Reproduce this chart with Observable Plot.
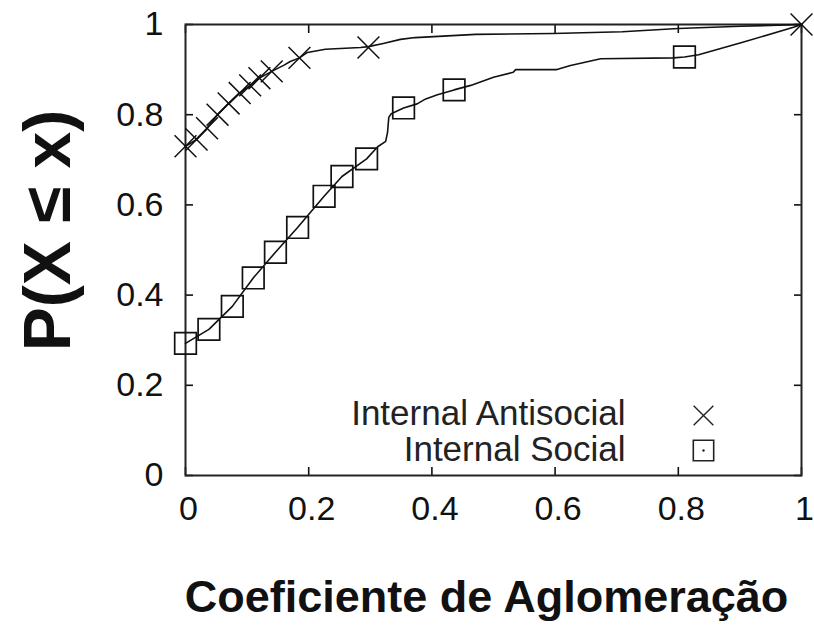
<!DOCTYPE html>
<html><head><meta charset="utf-8">
<script src="https://cdn.jsdelivr.net/npm/d3@7"></script>
<script src="https://cdn.jsdelivr.net/npm/@observablehq/plot@0.6"></script>
<style>body{margin:0;background:#fff}</style>
</head><body><div id="chart"></div>
<script>
const seriesNames = ["Internal Antisocial", "Internal Social"];
const xTitle = "Coeficiente de Aglomeração";
const yTitle = "P(X ≤ x)";
const xTicks = [0, 0.2, 0.4, 0.6, 0.8, 1];
const yTicks = [0, 0.2, 0.4, 0.6, 0.8, 1];
const xTickLabels = ["0", "0.2", "0.4", "0.6", "0.8", "1"];
const yTickLabels = ["0", "0.2", "0.4", "0.6", "0.8", "1"];

// Internal Antisocial CDF (line) and marker points
const antiX = [0, 0.018, 0.035, 0.052, 0.07, 0.088, 0.105, 0.12, 0.14, 0.16, 0.17, 0.185, 0.198, 0.227, 0.284, 0.297, 0.321, 0.349, 0.373, 0.471, 0.597, 0.709, 0.8, 0.901, 1];
const antiY = [0.73, 0.745, 0.77, 0.8, 0.825, 0.848, 0.865, 0.881, 0.896, 0.91, 0.918, 0.926, 0.938, 0.945, 0.949, 0.951, 0.958, 0.967, 0.971, 0.978, 0.98, 0.984, 0.991, 0.996, 1];
const antiMarkX = [0, 0.018, 0.035, 0.052, 0.07, 0.088, 0.105, 0.12, 0.14, 0.185, 0.297, 1];
const antiMarkY = [0.73, 0.745, 0.77, 0.8, 0.825, 0.848, 0.865, 0.881, 0.896, 0.926, 0.949, 1];

// Internal Social CDF (line) and marker points
const socialX = [0, 0.038, 0.076, 0.11, 0.146, 0.182, 0.225, 0.254, 0.294, 0.312, 0.325, 0.328, 0.33, 0.334, 0.354, 0.376, 0.39, 0.409, 0.436, 0.463, 0.5, 0.532, 0.536, 0.603, 0.625, 0.674, 0.792, 0.81, 0.833, 0.906, 0.987, 1];
const socialY = [0.293, 0.324, 0.375, 0.438, 0.495, 0.55, 0.619, 0.663, 0.702, 0.729, 0.741, 0.761, 0.794, 0.802, 0.815, 0.824, 0.835, 0.844, 0.855, 0.865, 0.883, 0.894, 0.9, 0.9, 0.909, 0.924, 0.926, 0.928, 0.933, 0.961, 0.994, 1];
const socialMarkX = [0, 0.038, 0.076, 0.11, 0.146, 0.182, 0.225, 0.254, 0.294, 0.354, 0.436, 0.81];
const socialMarkY = [0.293, 0.324, 0.375, 0.438, 0.495, 0.55, 0.619, 0.663, 0.702, 0.815, 0.855, 0.928];

const toRows = (xs, ys) => xs.map((x, i) => ({x, y: ys[i]}));
const anti = toRows(antiX, antiY), antiM = toRows(antiMarkX, antiMarkY);
const social = toRows(socialX, socialY), socialM = toRows(socialMarkX, socialMarkY);

const ink = "#111";
const chart = Plot.plot({
  width: 814, height: 626,
  marginLeft: 185, marginRight: 13, marginTop: 24, marginBottom: 151,
  x: {domain: [0, 1]},
  y: {domain: [0, 1]},
  style: {fontFamily: "'Liberation Sans', Arial, sans-serif", fontSize: "34px", background: "#fff", color: ink},
  marks: [
    // inward ticks on all four sides
    Plot.axisX(xTicks, {anchor: "bottom", tickSize: 8, dy: -8, text: null, label: null, strokeWidth: 1.6}),
    Plot.axisX(xTicks, {anchor: "top", tickSize: 8, dy: 8, text: null, label: null, strokeWidth: 1.6}),
    Plot.axisY(yTicks, {anchor: "left", tickSize: 8, dx: 8, text: null, label: null, strokeWidth: 1.6}),
    Plot.axisY(yTicks, {anchor: "right", tickSize: 8, dx: -8, text: null, label: null, strokeWidth: 1.6}),
    // tick labels
    Plot.axisX(xTicks, {anchor: "bottom", tickSize: 0, tickPadding: 20, dx: 3, label: null, tickFormat: (d, i) => xTickLabels[i], fill: ink}),
    Plot.axisY(yTicks, {anchor: "left", tickSize: 0, tickPadding: 22, label: null, tickFormat: (d, i) => yTickLabels[i], fill: ink}),
    Plot.frame({stroke: "#222", strokeWidth: 2}),
    // data
    Plot.line(anti, {x: "x", y: "y", stroke: ink, strokeWidth: 1.6}),
    Plot.line(social, {x: "x", y: "y", stroke: ink, strokeWidth: 1.6}),
    Plot.dot(antiM, {x: "x", y: "y", symbol: "times", r: 10, stroke: ink, strokeWidth: 1.5}),
    Plot.dot(socialM, {x: "x", y: "y", symbol: "square", r: 12.2, stroke: ink, strokeWidth: 1.7, fill: "none"}),
    // legend
    Plot.text([seriesNames[0]], {text: d => d, frameAnchor: "bottom-right", textAnchor: "end", lineAnchor: "middle", dx: -176, dy: -62, fill: "#222", fontSize: 35}),
    Plot.text([seriesNames[1]], {text: d => d, frameAnchor: "bottom-right", textAnchor: "end", lineAnchor: "middle", dx: -176, dy: -26, fill: "#222", fontSize: 35}),
    Plot.dot([seriesNames[0]], {frameAnchor: "bottom-right", dx: -98, dy: -60, symbol: "times", r: 9, stroke: "#222", strokeWidth: 1.4}),
    Plot.dot([seriesNames[1]], {frameAnchor: "bottom-right", dx: -98, dy: -25, symbol: "square", r: 11.5, stroke: "#222", strokeWidth: 1.6, fill: "none"}),
    Plot.dot([seriesNames[1]], {frameAnchor: "bottom-right", dx: -98, dy: -25, r: 1.2, fill: "#222", stroke: "none"}),
    // axis titles
    Plot.text([xTitle], {text: d => d, frameAnchor: "bottom", textAnchor: "middle", lineAnchor: "middle", dx: -7, dy: 122, fontWeight: "bold", fontSize: 45, fill: ink}),
    Plot.text([yTitle], {text: d => d, frameAnchor: "left", textAnchor: "middle", lineAnchor: "middle", rotate: -90, dx: -137, dy: -19.5, fontWeight: "bold", fontSize: 66, fill: ink})
  ]
});
document.getElementById("chart").appendChild(chart);
</script>
</body></html>
